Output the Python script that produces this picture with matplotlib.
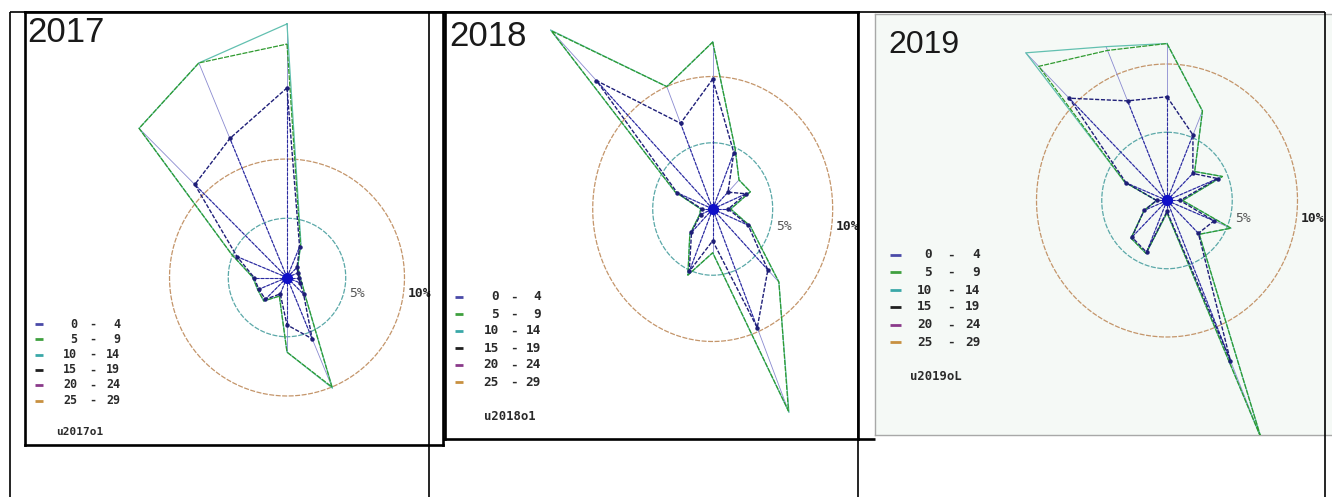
import numpy as np
import matplotlib
matplotlib.use("Agg")
import matplotlib.pyplot as plt

# ---------------------------------------------------------------- data
directions = ["N", "NNE", "NE", "ENE", "E", "ESE", "SE", "SSE",
              "S", "SSW", "SW", "WSW", "W", "WNW", "NW", "NNW"]

years = ["2017", "2018", "2019"]
station_labels = ["u2017o1", "u2018o1", "u2019oL"]

class_low = [0, 5, 10, 15, 20, 25]
class_high = [4, 9, 14, 19, 24, 29]
class_colors = ["#4a4aa8", "#3fa03f", "#3aa8a8", "#202020", "#8a3a8a", "#c89040"]

ring_values = [5, 10]
ring_labels = ["5%", "10%"]
ring_colors = ["#5aa8a8", "#c4956a"]

# cumulative frequency (%) per direction, N clockwise
freq_0_4_2017 = [16.0, 2.8, 1.2, 1.0, 1.0, 1.2, 2.0, 5.6, 4.0, 1.5, 2.6, 2.6, 2.8, 4.6, 11.1, 12.7]
freq_5_9_2017 = [19.7, 3.0, 1.3, 1.1, 1.1, 1.4, 2.2, 10.0, 6.3, 1.7, 2.8, 2.7, 2.9, 5.1, 17.8, 19.6]
freq_10_14_2017 = [21.4, 3.1, 1.3, 1.1, 1.1, 1.4, 2.2, 10.1, 6.3, 1.7, 2.8, 2.7, 2.9, 5.1, 17.8, 19.6]

freq_0_4_2018 = [9.8, 4.6, 1.8, 3.0, 1.3, 3.2, 6.5, 9.7, 2.4, 5.1, 2.5, 1.1, 0.9, 3.2, 13.7, 7.0]
freq_5_9_2018 = [12.6, 4.9, 3.1, 3.4, 1.5, 3.4, 7.8, 16.5, 3.3, 5.4, 2.7, 1.2, 1.0, 3.4, 19.0, 10.0]
freq_10_14_2018 = [12.6, 4.9, 3.1, 3.4, 1.5, 3.4, 7.8, 16.6, 3.3, 5.4, 2.7, 1.2, 1.0, 3.4, 19.1, 10.0]

freq_0_4_2019 = [7.6, 5.2, 2.8, 4.2, 1.0, 3.9, 3.4, 12.7, 0.8, 4.1, 3.8, 1.9, 0.8, 3.4, 10.6, 7.9]
freq_5_9_2019 = [11.5, 7.1, 3.0, 4.6, 1.2, 5.3, 3.5, 18.8, 0.9, 4.2, 3.9, 1.9, 0.8, 3.5, 13.9, 11.9]
freq_10_14_2019 = [11.5, 7.1, 3.0, 4.6, 1.2, 5.3, 3.5, 18.9, 0.9, 4.2, 3.9, 1.9, 0.8, 3.5, 15.3, 12.2]

series_by_year = {
    "2017": [freq_0_4_2017, freq_5_9_2017, freq_10_14_2017],
    "2018": [freq_0_4_2018, freq_5_9_2018, freq_10_14_2018],
    "2019": [freq_0_4_2019, freq_5_9_2019, freq_10_14_2019],
}

# ---------------------------------------------------------------- layout (pixels)
W, H, DPI = 1332, 497, 100

panels = {
    "2017": dict(box=(25, 12, 443, 445), center=(287.0, 277.5), scale=(11.75, 11.85),
                 title_xy=(27, 33), title_size=25,
                 legend_rows=[324, 339.3, 354.5, 369.7, 385, 400.5],
                 legend_marker=(35, 43), legend_cols=(77, 92.5, 120), legend_size=8.4,
                 station_xy=(80, 432), frame="black"),
    "2018": dict(box=(445, 12, 858, 439), center=(712.7, 209.0), scale=(12.0, 13.25),
                 title_xy=(449, 37), title_size=25,
                 legend_rows=[297, 314, 331, 348, 365, 382],
                 legend_marker=(455, 463), legend_cols=(499, 514, 541), legend_size=9.2,
                 station_xy=(510, 417), frame="black"),
    "2019": dict(box=(875, 14, 1340, 435), center=(1167.0, 200.5), scale=(13.05, 13.65),
                 title_xy=(888, 45), title_size=23,
                 legend_rows=[255, 272, 290, 307, 325, 342],
                 legend_marker=(890, 901), legend_cols=(932, 951, 980), legend_size=9.2,
                 station_xy=(936, 377), frame="gray"),
}

fig = plt.figure(figsize=(W / DPI, H / DPI), dpi=DPI)
fig.patch.set_facecolor("white")

mono = ["DejaVu Sans Mono"]
sans = ["Liberation Sans", "DejaVu Sans"]


def vertices(values):
    theta = np.deg2rad(np.arange(len(values)) * 360.0 / len(values))
    v = np.asarray(values, dtype=float)
    return v * np.sin(theta), v * np.cos(theta)


for year, station in zip(years, station_labels):
    p = panels[year]
    L, T, R, B = p["box"]
    cx, cy = p["center"]
    sx, sy = p["scale"]
    ax = fig.add_axes([L / W, 1 - B / H, (R - L) / W, (B - T) / H])
    ax.set_xlim((L - cx) / sx, (R - cx) / sx)
    ax.set_ylim((cy - B) / sy, (cy - T) / sy)
    ax.set_xticks([])
    ax.set_yticks([])
    if p["frame"] == "black":
        ax.set_facecolor("white")
        for s in ax.spines.values():
            s.set_color("black")
            s.set_linewidth(1.9)
    else:
        ax.set_facecolor("#f5f9f6")
        for name, s in ax.spines.items():
            s.set_color("#a8a8a8")
            s.set_linewidth(1.0)
        ax.spines["right"].set_visible(False)

    def px(x, y):
        return (x - L) / (R - L), (B - y) / (B - T)

    # reference rings
    t = np.linspace(0, 2 * np.pi, 361)
    for rv, rl, rc in zip(ring_values, ring_labels, ring_colors):
        ax.plot(rv * np.sin(t), rv * np.cos(t), color=rc, lw=0.9,
                ls=(0, (4, 1.2)), zorder=2)
        ax.text(rv + 0.25, -1.35, rl, ha="left", va="center",
                fontsize=9.4, family=mono,
                fontweight="bold" if rv == 10 else "normal",
                color="#222222" if rv == 10 else "#555555", zorder=6)

    inner, middle, outer = series_by_year[year]

    # spokes
    ox, oy = vertices(outer)
    for x, y in zip(ox, oy):
        ax.plot([0, x], [0, y], color="#8a8ad0", lw=0.6, zorder=3)
    ix, iy = vertices(inner)
    for x, y in zip(ix, iy):
        ax.plot([0, x], [0, y], color="#2a2aa0", lw=0.8,
                ls=(0, (3, 1.2)), zorder=4)

    # class outlines
    ax.plot(np.append(ox, ox[0]), np.append(oy, oy[0]), color="#62c0b0",
            lw=0.9, zorder=3)
    mx, my = vertices(middle)
    ax.plot(np.append(mx, mx[0]), np.append(my, my[0]), color="#2f9a2f",
            lw=0.9, ls=(0, (4, 1)), zorder=4)
    ax.plot(np.append(ix, ix[0]), np.append(iy, iy[0]), color="#1e1e78",
            lw=1.0, ls=(0, (3, 1.2)), zorder=5)
    ax.plot(ix, iy, "o", ms=2.2, color="#1e1e78", zorder=5)
    ax.plot([0], [0], "o", ms=7, color="#1010c8", zorder=6)

    # title
    tx, ty = px(*p["title_xy"])
    ax.text(tx, ty, year, transform=ax.transAxes, ha="left", va="center",
            fontsize=p["title_size"], family=sans, color="#1a1a1a", zorder=7)

    # legend
    m0, m1 = p["legend_marker"]
    c1, c2, c3 = p["legend_cols"]
    for lo, hi, col, ry in zip(class_low, class_high, class_colors, p["legend_rows"]):
        a0, yy = px(m0, ry)
        a1, _ = px(m1, ry)
        ax.plot([a0, a1], [yy, yy], transform=ax.transAxes, color=col,
                lw=2.0, solid_capstyle="butt", zorder=7)
        for xcol, s, ha in ((c1, str(lo), "right"), (c2, "-", "center"), (c3, str(hi), "right")):
            xa, _ = px(xcol, ry)
            ax.text(xa, yy, s, transform=ax.transAxes, ha=ha, va="center",
                    fontsize=p["legend_size"], family=mono, fontweight="bold",
                    color="#2a2a2a", zorder=7)
    sxp, syp = px(*p["station_xy"])
    ax.text(sxp, syp, station, transform=ax.transAxes, ha="center", va="center",
            fontsize=p["legend_size"] - 0.4, family=mono, fontweight="bold",
            color="#2a2a2a", zorder=7)

# ---------------------------------------------------------------- table frame
frame = fig.add_axes([0, 0, 1, 1], zorder=20)
frame.set_xlim(0, W)
frame.set_ylim(H, 0)
frame.axis("off")
frame.patch.set_alpha(0)
grid_top = 12
column_edges = [10, 429, 858, 1325]
frame.plot([column_edges[0], column_edges[-1]], [grid_top, grid_top],
           color="black", lw=1.2, solid_capstyle="butt")
for xe in column_edges:
    frame.plot([xe, xe], [grid_top, H], color="black", lw=1.2, solid_capstyle="butt")
frame.plot([858, 875], [439, 439], color="black", lw=1.9, solid_capstyle="butt")

fig.savefig("out.png", dpi=DPI, facecolor="white")
